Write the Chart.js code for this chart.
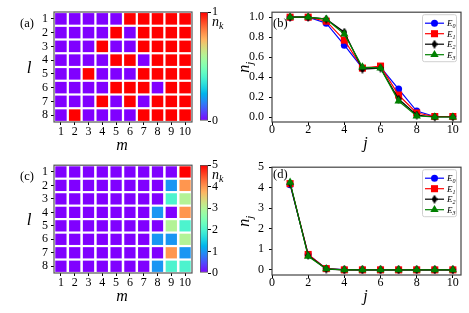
<!DOCTYPE html>
<html>
<head>
<meta charset="utf-8">
<script src="https://cdn.jsdelivr.net/npm/chart.js@4.4.0/dist/chart.umd.min.js"></script>
<style>
  body { margin: 0; background: #fff; }
  #wrap { position: relative; width: 469px; height: 313px; overflow: hidden; }
  canvas { position: absolute; }
</style>
</head>
<body>
<div id="wrap">
  <canvas id="heatA" width="196" height="155" style="left:0;top:0;width:196px;height:155px"></canvas>
  <canvas id="cbA" width="44" height="155" style="left:196px;top:0;width:44px;height:155px"></canvas>
  <canvas id="lineB" width="229" height="155" style="left:240px;top:0;width:229px;height:155px"></canvas>
  <canvas id="heatC" width="196" height="151" style="left:0;top:155px;width:196px;height:151px"></canvas>
  <canvas id="cbC" width="44" height="151" style="left:196px;top:155px;width:44px;height:151px"></canvas>
  <canvas id="lineD" width="229" height="151" style="left:240px;top:155px;width:229px;height:151px"></canvas>
</div>
<script>
// grid axes
const mCats = [1, 2, 3, 4, 5, 6, 7, 8, 9, 10];
const lCats = [1, 2, 3, 4, 5, 6, 7, 8];

// occupation n_k, rows l = 1..8, columns m = 1..10
const occA = [
  [0, 0, 0, 0, 0, 1, 1, 1, 1, 1],
  [0, 0, 0, 0, 1, 0, 1, 1, 1, 1],
  [0, 0, 0, 1, 0, 0, 1, 1, 1, 1],
  [0, 0, 0, 0, 1, 1, 0, 1, 1, 1],
  [0, 0, 1, 0, 0, 0, 1, 1, 1, 1],
  [0, 0, 0, 0, 1, 1, 1, 0, 1, 1],
  [0, 0, 0, 1, 0, 1, 0, 1, 1, 1],
  [0, 1, 0, 0, 0, 0, 1, 1, 1, 1]
];
const occC = [
  [0, 0, 0, 0, 0, 0, 0, 0, 0, 5],
  [0, 0, 0, 0, 0, 0, 0, 0, 1, 4],
  [0, 0, 0, 0, 0, 0, 0, 0, 2, 3],
  [0, 0, 0, 0, 0, 0, 0, 1, 0, 4],
  [0, 0, 0, 0, 0, 0, 0, 0, 3, 2],
  [0, 0, 0, 0, 0, 0, 0, 1, 1, 3],
  [0, 0, 0, 0, 0, 0, 0, 0, 4, 1],
  [0, 0, 0, 0, 0, 0, 0, 1, 2, 2]
];
const maxA = 1;
const maxC = 5;
const cbTicksA = [0, 1];
const cbTicksC = [0, 1, 2, 3, 4, 5];

// n_j for the four states
const jVals = [1, 2, 3, 4, 5, 6, 7, 8, 9, 10];
const nB_E0 = [1.00, 1.00, 0.94, 0.72, 0.49, 0.50, 0.28, 0.06, 0.005, 0.005];
const nB_E1 = [1.00, 1.00, 0.96, 0.77, 0.49, 0.51, 0.22, 0.04, 0.005, 0.005];
const nB_E2 = [1.00, 1.00, 0.98, 0.85, 0.48, 0.49, 0.18, 0.02, 0.00, 0.00];
const nB_E3 = [1.00, 1.00, 0.98, 0.83, 0.50, 0.49, 0.16, 0.01, 0.00, 0.00];
const nD_E0 = [4.15, 0.75, 0.06, 0.01, 0.00, 0.00, 0.00, 0.00, 0.00, 0.00];
const nD_E1 = [4.20, 0.75, 0.06, 0.00, 0.00, 0.00, 0.00, 0.00, 0.00, 0.00];
const nD_E2 = [4.22, 0.70, 0.04, 0.00, 0.00, 0.00, 0.00, 0.00, 0.00, 0.00];
const nD_E3 = [4.26, 0.66, 0.05, 0.00, 0.00, 0.00, 0.00, 0.00, 0.00, 0.00];
const seriesLabels = ['E0', 'E1', 'E2', 'E3'];
const jTicks = [0, 2, 4, 6, 8, 10];
const nBTicks = [0, 0.2, 0.4, 0.6, 0.8, 1.0];
const nDTicks = [0, 1, 2, 3, 4, 5];

const SERIF = "'Liberation Serif', 'DejaVu Serif', serif";
const tickFont = { family: SERIF, size: 12 };

// matplotlib 'rainbow'
function rainbow(t) {
  const c = v => Math.round(255 * Math.min(1, Math.max(0, v)));
  return `rgb(${c(Math.abs(2 * t - 0.5))},${c(Math.sin(Math.PI * t))},${c(Math.cos(Math.PI * t / 2))})`;
}

function thinDiamond(color) {
  const c = document.createElement('canvas');
  c.width = 6; c.height = 9;
  const g = c.getContext('2d');
  g.fillStyle = color;
  g.beginPath();
  g.moveTo(3, 0); g.lineTo(6, 4.5); g.lineTo(3, 9); g.lineTo(0, 4.5);
  g.closePath();
  g.fill();
  return c;
}

const seriesColors = ['#0000ff', '#ff0000', '#000000', '#008000'];
const seriesStyles = ['circle', 'rect', thinDiamond('#000000'), 'triangle'];
const seriesRadii = [3.5, 5, 4, 4.8];

// draws the box round the axes
const frame = {
  id: 'frame',
  afterDatasetsDraw(chart, args, o) {
    if (!o.display) return;
    const { ctx, chartArea: a } = chart;
    ctx.save();
    ctx.strokeStyle = o.color || '#444';
    ctx.lineWidth = o.width || 1;
    ctx.strokeRect(a.left, a.top, a.right - a.left, a.bottom - a.top);
    ctx.restore();
  }
};

// text with optional subscript, e.g. n_j
function drawSubText(ctx, main, sub, size, italic, align) {
  const mf = `${italic ? 'italic ' : ''}${size}px ${SERIF}`;
  const sf = `${italic ? 'italic ' : ''}${Math.round(size * 0.7)}px ${SERIF}`;
  ctx.font = mf;
  const w1 = ctx.measureText(main).width;
  ctx.font = sf;
  const w2 = sub ? ctx.measureText(sub).width : 0;
  const total = w1 + w2;
  let x = align === 'left' ? 0 : align === 'right' ? -total : -total / 2;
  ctx.textAlign = 'left';
  ctx.textBaseline = 'alphabetic';
  ctx.font = mf;
  ctx.fillText(main, x, 0);
  if (sub) {
    ctx.font = sf;
    ctx.fillText(sub, x + w1, size * 0.22);
  }
}

const texts = {
  id: 'texts',
  afterDraw(chart, args, o) {
    const { ctx, chartArea: a } = chart;
    (o.items || []).forEach(t => {
      const [x, y] = t.at(a);
      ctx.save();
      ctx.translate(x, y);
      if (t.rot) ctx.rotate(t.rot);
      ctx.fillStyle = '#000';
      drawSubText(ctx, t.text, t.sub, t.size, t.italic, t.align);
      ctx.restore();
    });
  }
};

const boxLegend = {
  id: 'boxLegend',
  afterDatasetsDraw(chart, args, o) {
    if (!o.display) return;
    const { ctx, chartArea: a } = chart;
    const x0 = a.right - o.right - o.width;
    const y0 = a.top + o.top;
    ctx.save();
    ctx.fillStyle = 'rgba(255,255,255,0.85)';
    ctx.strokeStyle = '#d0d0d0';
    ctx.lineWidth = 1;
    ctx.beginPath();
    ctx.roundRect(x0 + 0.5, y0 + 0.5, o.width, o.height, 2);
    ctx.fill();
    ctx.stroke();
    chart.data.datasets.forEach((ds, i) => {
      const y = y0 + o.first + i * o.step;
      ctx.strokeStyle = ds.borderColor;
      ctx.fillStyle = ds.backgroundColor;
      ctx.lineWidth = ds.borderWidth;
      ctx.beginPath();
      ctx.moveTo(x0 + 3, y);
      ctx.lineTo(x0 + 22, y);
      ctx.stroke();
      Chart.helpers.drawPoint(ctx, { pointStyle: ds.pointStyle, radius: ds.pointRadius, rotation: 0, borderWidth: 0 }, x0 + 12.5, y);
      ctx.save();
      ctx.translate(x0 + 25, y + 3);
      ctx.fillStyle = '#000';
      drawSubText(ctx, ds.label[0], ds.label.slice(1), 9, true, 'left');
      ctx.restore();
    });
    ctx.restore();
  }
};

Chart.register(frame, texts, boxLegend);

function cells(grid) {
  const pts = [];
  grid.forEach((row, i) => row.forEach((v, k) => pts.push({ x: mCats[k], y: lCats[i], v })));
  return pts;
}

function cellRadius(chart) {
  const sx = chart.scales.x, sy = chart.scales.y;
  if (!sx || !sy) return 6;
  const hx = Math.abs(sx.getPixelForValue(1) - sx.getPixelForValue(0.5));
  const hy = Math.abs(sy.getPixelForValue(1) - sy.getPixelForValue(0.5));
  return (Math.min(hx, hy) - 1.1) / Math.SQRT1_2;
}

function heatChart(id, grid, vmax, tag, topPad) {
  return new Chart(document.getElementById(id), {
    type: 'scatter',
    data: {
      datasets: [{
        data: cells(grid),
        pointStyle: 'rect',
        backgroundColor: c => (c.raw ? rainbow(c.raw.v / vmax) : '#000'),
        borderWidth: 0,
        pointRadius: c => cellRadius(c.chart),
        pointHoverRadius: c => cellRadius(c.chart),
        clip: false
      }]
    },
    options: {
      responsive: false,
      animation: false,
      events: [],
      layout: { padding: { top: topPad, right: 4, left: 0, bottom: 0 } },
      plugins: {
        legend: { display: false },
        tooltip: { enabled: false },
        frame: { display: true, color: '#555', width: 1.2 },
        texts: {
          items: [
            { text: tag, size: 12.5, at: a => [a.left - 27, a.top + 15] },
            { text: 'l', size: 17, italic: true, at: a => [a.left - 25, (a.top + a.bottom) / 2 + 6] },
            { text: 'm', size: 16, italic: true, at: a => [(a.left + a.right) / 2 - 1, a.bottom + 28] }
          ]
        }
      },
      scales: {
        x: {
          type: 'linear', min: 0.5, max: 10.5,
          afterBuildTicks: s => { s.ticks = mCats.map(v => ({ value: v })); },
          afterFit: s => { s.height = 33; },
          ticks: { font: tickFont, color: '#000', padding: 0, maxRotation: 0, autoSkip: false, callback: v => String(v) },
          grid: { drawOnChartArea: false, drawTicks: true, tickLength: 3, color: '#000' },
          border: { display: false }
        },
        y: {
          type: 'linear', min: 0.5, max: 8.5, reverse: true,
          afterBuildTicks: s => { s.ticks = lCats.map(v => ({ value: v })); },
          afterFit: s => { s.width = 54; },
          ticks: { font: tickFont, color: '#000', padding: 3, autoSkip: false, callback: v => String(v) },
          grid: { drawOnChartArea: false, drawTicks: true, tickLength: 3, color: '#000' },
          border: { display: false }
        }
      }
    }
  });
}

function colorbar(id, vmax, cbTicks, topPad, bottomPad) {
  return new Chart(document.getElementById(id), {
    type: 'bar',
    data: {
      labels: [''],
      datasets: [{
        data: [[0, vmax]],
        backgroundColor: c => {
          const a = c.chart.chartArea;
          if (!a) return '#888';
          const g = c.chart.ctx.createLinearGradient(0, a.bottom, 0, a.top);
          for (let i = 0; i <= 20; i++) g.addColorStop(i / 20, rainbow(i / 20));
          return g;
        },
        borderColor: '#555',
        borderWidth: 1,
        borderSkipped: false,
        barPercentage: 1,
        categoryPercentage: 1
      }]
    },
    options: {
      responsive: false,
      animation: false,
      events: [],
      layout: { padding: { top: topPad, bottom: bottomPad, left: 4, right: 0 } },
      plugins: {
        legend: { display: false },
        tooltip: { enabled: false },
        texts: {
          items: [
            { text: 'n', sub: 'k', size: 14, italic: true, align: 'left', at: a => [a.right + 4, a.top + 14] }
          ]
        }
      },
      scales: {
        x: { display: false },
        y: {
          position: 'right', min: 0, max: vmax,
          afterBuildTicks: s => { s.ticks = cbTicks.map(v => ({ value: v })); },
          afterFit: s => { s.width = 32; },
          ticks: { font: tickFont, color: '#000', padding: 1, autoSkip: false, callback: v => String(v) },
          grid: { drawOnChartArea: false, drawTicks: true, tickLength: 3, color: '#000' },
          border: { display: false }
        }
      }
    }
  });
}

function lineChart(id, series, yMin, yMax, yTicks, yFmt, tag, topPad, xHeight, tagDy) {
  return new Chart(document.getElementById(id), {
    type: 'line',
    data: {
      datasets: series.map((vals, i) => ({
        label: seriesLabels[i],
        data: vals.map((v, k) => ({ x: jVals[k], y: v })),
        borderColor: seriesColors[i],
        backgroundColor: seriesColors[i],
        borderWidth: 1.2,
        pointStyle: seriesStyles[i],
        pointRadius: seriesRadii[i],
        pointBorderWidth: 0,
        pointBackgroundColor: seriesColors[i],
        tension: 0,
        order: series.length - i,
        clip: false
      }))
    },
    options: {
      responsive: false,
      animation: false,
      events: [],
      layout: { padding: { top: topPad, right: 8, left: 0, bottom: 0 } },
      plugins: {
        legend: { display: false },
        tooltip: { enabled: false },
        frame: { display: true, color: '#444', width: 1.2 },
        boxLegend: { display: true, right: 5, top: 2, width: 34, height: 47, first: 9, step: 10.5 },
        texts: {
          items: [
            { text: tag, size: 12.5, align: 'left', at: a => [a.left + 1, a.top + tagDy] },
            { text: 'n', sub: 'j', size: 16, italic: true, rot: -Math.PI / 2, at: a => [a.left - 23, (a.top + a.bottom) / 2] },
            { text: 'j', size: 16, italic: true, at: a => [(a.left + a.right) / 2 - 1, a.bottom + 26] }
          ]
        }
      },
      scales: {
        x: {
          type: 'linear', min: 0, max: 10.45,
          afterBuildTicks: s => { s.ticks = jTicks.map(v => ({ value: v })); },
          afterFit: s => { s.height = xHeight; },
          ticks: { font: tickFont, color: '#000', padding: -2, maxRotation: 0, autoSkip: false, callback: v => String(v) },
          grid: { drawOnChartArea: false, drawTicks: true, tickLength: 3, color: '#000' },
          border: { display: false }
        },
        y: {
          type: 'linear', min: yMin, max: yMax,
          afterBuildTicks: s => { s.ticks = yTicks.map(v => ({ value: v })); },
          afterFit: s => { s.width = 32; },
          ticks: { font: tickFont, color: '#000', padding: 5, autoSkip: false, callback: yFmt },
          grid: { drawOnChartArea: false, drawTicks: true, tickLength: 3, color: '#000' },
          border: { display: false }
        }
      }
    }
  });
}

heatChart('heatA', occA, maxA, '(a)', 12);
colorbar('cbA', maxA, cbTicksA, 12, 34);
heatChart('heatC', occC, maxC, '(c)', 10);
colorbar('cbC', maxC, cbTicksC, 10, 33);
lineChart('lineB', [nB_E0, nB_E1, nB_E2, nB_E3], -0.05, 1.05, nBTicks, v => v.toFixed(1), '(b)', 12, 33, 15);
lineChart('lineD', [nD_E0, nD_E1, nD_E2, nD_E3], -0.25, 5, nDTicks, v => String(v), '(d)', 11, 31, 11);
</script>
</body>
</html>
